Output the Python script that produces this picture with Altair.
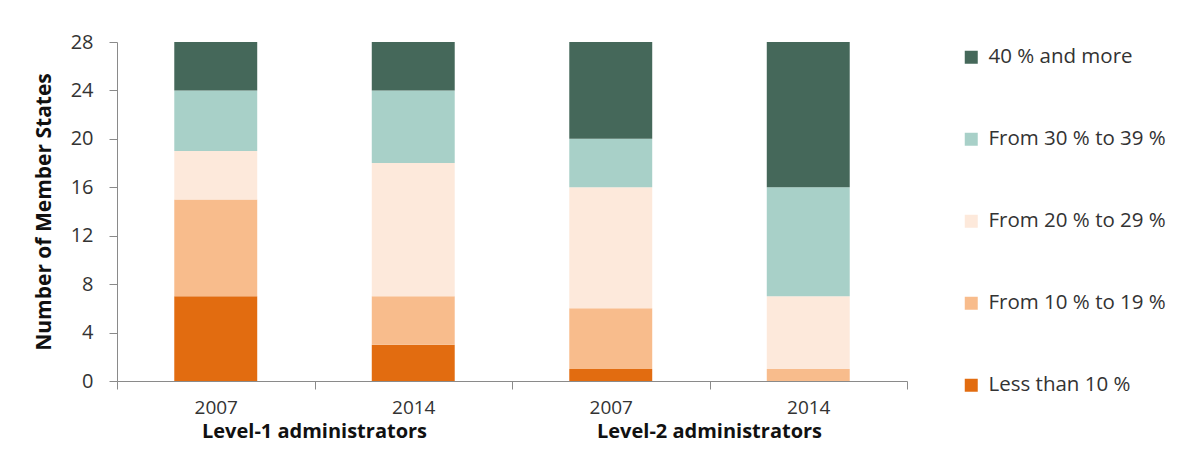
import altair as alt
import pandas as pd

categories = ["L1-2007", "L1-2014", "L2-2007", "L2-2014"]
year_labels = ["2007", "2014", "2007", "2014"]
classes = ["40 % and more", "From 30 % to 39 %", "From 20 % to 29 %",
           "From 10 % to 19 %", "Less than 10 %"]
colors = ["#45685A", "#A8D0C8", "#FDE9DB", "#F8BC8C", "#E26C10"]

less_10 = [7, 3, 1, 0]
from_10_19 = [8, 4, 5, 1]
from_20_29 = [4, 11, 10, 6]
from_30_39 = [5, 6, 4, 9]
over_40 = [4, 4, 8, 12]

group_cats = ["L1-2014", "L2-2014"]
group_labels = ["Level-1 administrators", "Level-2 administrators"]

series = {
    "Less than 10 %": less_10,
    "From 10 % to 19 %": from_10_19,
    "From 20 % to 29 %": from_20_29,
    "From 30 % to 39 %": from_30_39,
    "40 % and more": over_40,
}
rows = []
for rank, (cls, vals) in enumerate(series.items()):
    for cat, v in zip(categories, vals):
        rows.append({"cat": cat, "cls": cls, "value": v, "rank": rank})
df = pd.DataFrame(rows)

label_expr = "{" + ",".join(f"'{c}':'{y}'" for c, y in zip(categories, year_labels)) + "}[datum.value]"

FONT = "Open Sans"
x_scale = alt.Scale(domain=categories, paddingInner=0, paddingOuter=0)

bars = alt.Chart(df).mark_bar(width={"band": 0.42}).encode(
    x=alt.X("cat:N", scale=x_scale, sort=categories,
            axis=alt.Axis(title=None, labelExpr=label_expr, tickBand="extent",
                          labelAngle=0, labelFontSize=19, labelColor="#333333",
                          labelFont=FONT, labelPadding=9, tickSize=8,
                          domainColor="#8a8a8a", tickColor="#8a8a8a")),
    y=alt.Y("value:Q", stack="zero",
            scale=alt.Scale(domain=[0, 28], nice=False),
            axis=alt.Axis(title="Number of Member States", values=list(range(0, 29, 4)),
                          grid=False, labelFontSize=20, labelColor="#333333",
                          labelFont=FONT, titleFont=FONT, titleFontSize=21,
                          titleFontWeight="bold", titleColor="#111111",
                          titlePadding=16, tickSize=8, labelPadding=16,
                          domainColor="#8a8a8a", tickColor="#8a8a8a")),
    color=alt.Color("cls:N", scale=alt.Scale(domain=classes, range=colors),
                    legend=alt.Legend(title=None, orient="none", legendX=844, legendY=5,
                                      symbolType="square", symbolSize=169,
                                      symbolStrokeWidth=0, labelFontSize=20.5,
                                      labelFont=FONT, labelColor="#333333",
                                      labelOffset=7,
                                      rowPadding=61, labelLimit=300)),
    order=alt.Order("rank:Q", sort="ascending"),
)

gdf = pd.DataFrame({"cat": group_cats, "label": group_labels})
glabels = alt.Chart(gdf).mark_text(
    fontSize=20, fontWeight="bold", font=FONT, color="#111111",
    baseline="alphabetic", align="center"
).encode(
    x=alt.X("cat:N", scale=x_scale, sort=categories, bandPosition=0),
    y=alt.value(396),
    text="label:N",
)

chart = alt.layer(bars, glabels).properties(
    width=790, height=339,
    autosize=alt.AutoSizeParams(type="none"),
    padding={"left": 109, "top": 34, "right": 264, "bottom": 63},
).configure_view(stroke=None)

chart.save("out.html", embed_options={"renderer": "svg", "actions": False})
